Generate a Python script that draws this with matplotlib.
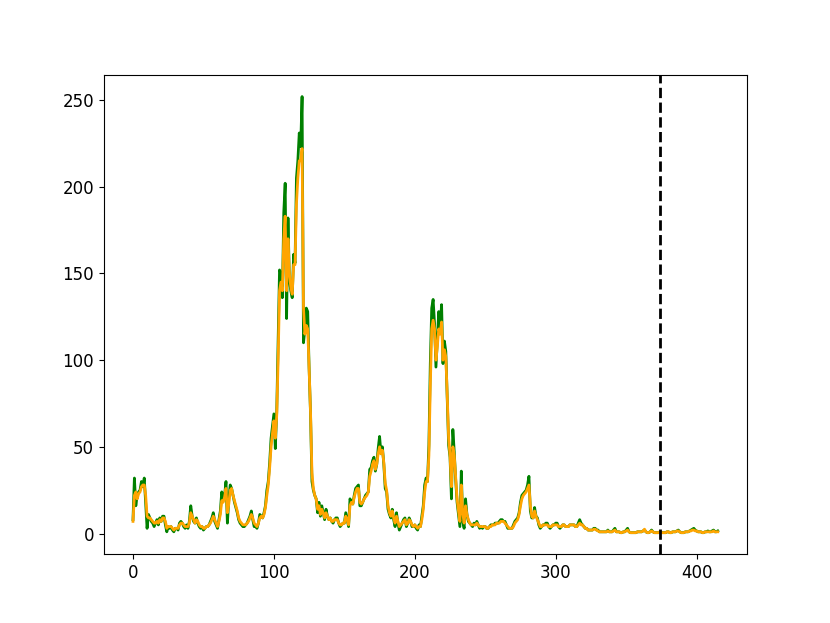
import numpy as np
import matplotlib
matplotlib.use('Agg')
import matplotlib.pyplot as plt

# actual values (green)
actual = [
    8, 32, 16, 22, 24, 25, 30, 27, 32, 18,
    3, 11, 9, 7, 6, 4, 6, 8, 5, 9,
    7, 10, 10, 5, 1, 4, 3, 4, 2, 1,
    3, 3, 2, 6, 7, 6, 4, 3, 5, 3,
    7, 16, 10, 7, 6, 9, 6, 4, 3, 4,
    2, 3, 4, 4, 5, 7, 9, 12, 7, 5,
    3, 8, 13, 24, 19, 22, 30, 6, 20, 28,
    26, 22, 18, 15, 12, 8, 6, 5, 4, 4,
    5, 6, 8, 10, 13, 8, 4, 4, 3, 6,
    11, 10, 9, 12, 16, 25, 30, 41, 55, 62,
    69, 49, 70, 110, 152, 150, 136, 185, 202, 124,
    182, 146, 140, 136, 161, 156, 205, 215, 231, 223,
    252, 110, 118, 130, 128, 95, 69, 30, 25, 22,
    20, 12, 18, 10, 16, 12, 8, 14, 10, 8,
    9, 7, 6, 8, 9, 9, 6, 4, 5, 6,
    6, 12, 8, 4, 20, 18, 17, 22, 26, 27,
    28, 16, 16, 18, 20, 22, 23, 24, 37, 38,
    42, 44, 36, 40, 49, 56, 46, 50, 40, 26,
    24, 14, 11, 9, 14, 8, 4, 12, 6, 2,
    4, 6, 8, 9, 4, 6, 9, 7, 4, 4,
    5, 3, 2, 5, 4, 10, 16, 28, 32, 30,
    51, 98, 130, 135, 121, 96, 112, 128, 119, 132,
    98, 111, 105, 78, 51, 44, 20, 60, 47, 31,
    18, 11, 4, 36, 7, 3, 20, 11, 7, 6,
    5, 4, 6, 5, 7, 5, 3, 4, 3, 4,
    4, 3, 3, 4, 5, 5, 5, 6, 6, 6,
    7, 8, 8, 7, 7, 5, 3, 3, 3, 3,
    5, 7, 8, 9, 12, 18, 22, 23, 24, 25,
    28, 33, 13, 9, 9, 15, 10, 9, 5, 3,
    4, 5, 5, 6, 6, 4, 3, 4, 5, 5,
    6, 6, 4, 3, 4, 5, 5, 4, 4, 4,
    5, 5, 5, 5, 4, 4, 6, 8, 6, 5,
    4, 3, 3, 2, 2, 2, 2, 3, 3, 2,
    2, 1, 1, 1, 1, 1, 1, 2, 1, 1,
    1, 2, 3, 1, 1, 1, 0.5, 0.5, 1, 1,
    2, 3, 1, 0.5, 0.5, 0.5, 0.5, 0.5, 1, 1,
    1, 1, 1.5, 2, 1, 0.5, 0.5, 1, 2, 1,
    0.5, 0.5, 0.5, 0.5, 1, 0.5, 0.5, 0.5, 0.5, 1,
    1, 0.5, 0.5, 1, 1, 1, 1.5, 2, 1, 0.5,
    0.5, 0.5, 1, 1, 1, 1.5, 2, 2.5, 3, 2,
    1.5, 1, 1, 1, 0.5, 0.5, 1, 1, 1.5, 1,
    1, 1.5, 2, 1, 1, 1.5,
]

# predicted values (orange)
predicted = [
    7, 22, 24, 20, 23, 24, 27, 28, 28, 22,
    10, 9, 9, 8, 7, 6, 6, 7, 6, 8,
    7, 9, 9, 7, 3, 4, 4, 4, 3, 2,
    3, 3, 3, 5, 6, 6, 5, 4, 4, 4,
    6, 12, 10, 8, 6, 8, 7, 5, 4, 4,
    3, 3, 4, 4, 5, 6, 8, 10, 8, 6,
    4, 7, 11, 19, 18, 21, 26, 12, 17, 25,
    26, 22, 19, 16, 13, 9, 7, 6, 5, 5,
    5, 6, 7, 9, 11, 9, 6, 5, 4, 6,
    9, 10, 9, 11, 15, 22, 28, 38, 50, 58,
    65, 55, 68, 100, 140, 145, 140, 170, 183, 140,
    170, 150, 142, 138, 155, 155, 190, 205, 215, 215,
    222, 130, 115, 120, 118, 95, 70, 35, 26, 22,
    20, 14, 16, 11, 14, 12, 9, 12, 10, 8,
    9, 7, 7, 8, 8, 8, 6, 5, 5, 6,
    6, 10, 8, 5, 16, 18, 17, 21, 24, 26,
    26, 18, 17, 18, 20, 21, 22, 24, 33, 36,
    40, 42, 37, 40, 46, 50, 46, 48, 41, 29,
    25, 16, 12, 10, 13, 9, 6, 10, 7, 4,
    5, 6, 7, 8, 5, 6, 8, 7, 5, 4,
    5, 4, 3, 4, 4, 8, 14, 24, 30, 30,
    45, 85, 118, 123, 118, 100, 108, 118, 115, 122,
    100, 106, 102, 80, 55, 45, 27, 50, 45, 32,
    20, 13, 7, 28, 12, 6, 16, 11, 8, 6,
    5, 5, 5, 5, 6, 5, 4, 4, 4, 4,
    4, 3, 3, 4, 4, 5, 5, 5, 6, 6,
    6, 7, 7, 7, 6, 5, 4, 3, 3, 3,
    4, 6, 7, 8, 11, 16, 20, 22, 23, 24,
    26, 28, 16, 10, 9, 13, 10, 8, 6, 4,
    4, 5, 5, 5, 5, 4, 4, 4, 5, 5,
    5, 5, 4, 4, 4, 5, 5, 4, 4, 4,
    5, 5, 5, 5, 4, 4, 5, 6, 5, 5,
    4, 3, 3, 2, 2, 2, 2, 2.5, 2.5, 2,
    1.5, 1, 1, 1, 1, 1, 1, 1.5, 1, 1,
    1, 1.5, 2, 1, 1, 1, 0.5, 0.5, 1, 1,
    1.5, 2, 1, 0.5, 0.5, 0.5, 0.5, 0.5, 1, 1,
    1, 1, 1.5, 2.5, 1, 0.5, 0.5, 1, 1.5, 1,
    0.5, 0.5, 0.5, 0.5, 1, 0.5, 0.5, 0.5, 0.5, 1,
    1, 0.5, 0.5, 1, 1, 1, 1.5, 1.5, 1, 0.5,
    0.5, 0.5, 1, 1, 1, 1.5, 1.5, 2, 2, 1.5,
    1.5, 1, 1, 1, 0.5, 0.5, 1, 1, 1, 1,
    1, 1, 1.5, 1, 1, 1,
]

split_index = 374

x = np.arange(len(actual))

fig = plt.figure(figsize=(8.3, 6.23), dpi=100)
ax = fig.add_subplot(111)
ax.plot(x, actual, color='green', linewidth=2)
ax.plot(x, predicted, color='orange', linewidth=2)
ax.axvline(x=split_index, color='black', linestyle='--', linewidth=2)
ax.tick_params(labelsize=12)

plt.savefig('out.png', dpi=100)
